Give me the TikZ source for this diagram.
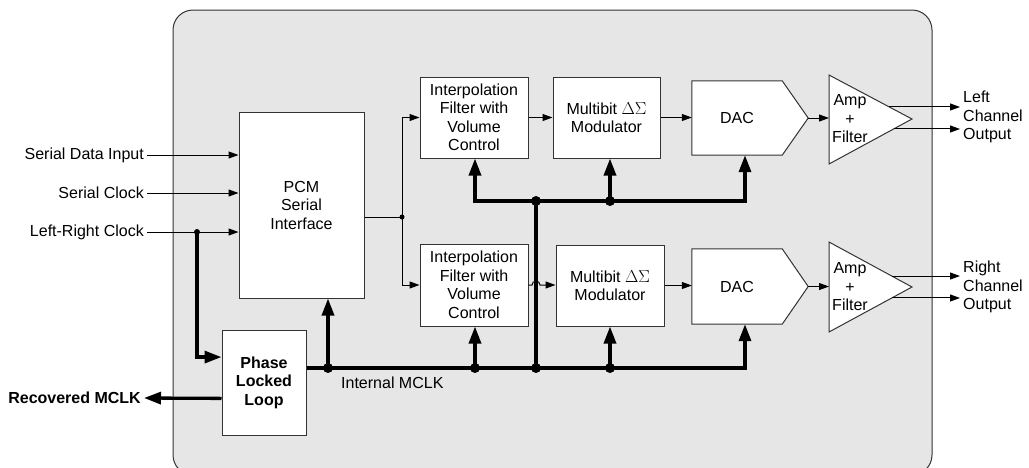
\documentclass[tikz,border=0pt]{standalone}
\usepackage{fontspec}
\setmainfont{Liberation Sans}
\usetikzlibrary{arrows.meta, calc}
\definecolor{Panel}{HTML}{E6E6E6}
\definecolor{Edge}{HTML}{333333}

\tikzset{
  box/.style={draw=Edge, fill=white, line width=1pt, inner sep=0pt, align=center},
  lbl/.style={inner sep=3pt},
  sig/.style={-{Triangle[length=10pt, width=7pt]}, line width=1pt},
  bus/.style={line width=3.3pt},
  busarrow/.style={-{Triangle[length=17pt, width=12pt]}, line width=3.3pt},
  dot/.style={circle, fill, inner sep=0pt, minimum size=6pt},
  bigdot/.style={circle, fill, inner sep=0pt, minimum size=10pt}
}

\begin{document}
\begin{tikzpicture}[x=1pt, y=-1pt, font=\fontsize{16}{18.5}\selectfont]
  \useasboundingbox (0,0) rectangle (1029,467);
  % chip outline
  \draw[draw=Edge, fill=Panel, line width=1pt, rounded corners=20pt] (173,10) rectangle (932,475);

  % blocks
  \node[box, minimum width=125, minimum height=186] (pcm) at (301.5,205) {PCM\\Serial\\Interface};
  \node[box, minimum width=84, minimum height=105, font=\fontsize{16}{18.5}\selectfont\bfseries] (pll) at (264,382.5) {Phase\\Locked\\Loop};
  \node[box, minimum width=108, minimum height=81] (intT) at (474,117.5) {Interpolation\\Filter with\\Volume\\Control};
  \node[box, minimum width=107, minimum height=81] (modT) at (606.5,117.5) {Multibit $\Delta\Sigma$\\Modulator};
  \node[box, minimum width=108, minimum height=82] (intB) at (474,285) {Interpolation\\Filter with\\Volume\\Control};
  \node[box, minimum width=108, minimum height=81] (modB) at (610,285.5) {Multibit $\Delta\Sigma$\\Modulator};

  % DACs
  \foreach \ch/\y/\h in {T/118/74, B/286.5/75} {
    \node[inner sep=0pt, minimum width=90, minimum height=\h] (dac\ch) at (737,\y) {};
    \coordinate (dac\ch tip) at ($(dac\ch.east)+(26,0)$);
    \draw[box] (dac\ch.north west) -- (dac\ch.north east) -- (dac\ch tip)
      -- (dac\ch.south east) -- (dac\ch.south west) -- cycle;
    \node at (dac\ch) {DAC};
  }

  % amplifiers
  \coordinate (ampTa) at (829,75);  \coordinate (ampTtip) at (912,119); \coordinate (ampTb) at (829,164);
  \coordinate (ampBa) at (829,242); \coordinate (ampBtip) at (912,287); \coordinate (ampBb) at (829,332);
  \foreach \ch in {T,B} {
    \draw[box] (amp\ch a) -- (amp\ch tip) -- (amp\ch b) -- cycle;
  }
  \node[align=center, inner sep=0pt] (ampT) at (850,119) {Amp\\+\\Filter};
  \node[align=center, inner sep=0pt] (ampB) at (850,287) {Amp\\+\\Filter};

  % inputs
  \foreach \name/\txt/\y in {sdi/Serial Data Input/155, sck/Serial Clock/193, lrc/Left-Right Clock/232} {
    \node[lbl, anchor=east] (\name) at (147,\y) {\txt};
    \draw[sig] (\name.east) -- (\name.east -| pcm.west);
  }
  \node[dot] (lrcdot) at (197,232) {};
  \draw[busarrow] (lrcdot.center) |- ($(pll.north west)!0.26!(pll.south west)$);
  \node[lbl, anchor=east, font=\fontsize{16}{18.5}\selectfont\bfseries] (rec) at (144,398) {Recovered MCLK};
  \draw[busarrow] ($(pll.north west)!0.65!(pll.south west)$) -- (rec.east);

  % serial data split
  \node[dot, minimum size=5pt] (split) at (402,217) {};
  \draw[line width=1pt] (pcm.east |- split) -- (split.center);
  \draw[sig] (split.center) |- (intT.west);
  \draw[sig] (split.center) |- (intB.west);

  % internal MCLK bus
  \coordinate (busR) at (745,368);
  \node[bigdot] (d1) at (328,368) {};
  \node[bigdot] (d2) at (475,368) {};
  \node[bigdot] (d3) at (536,368) {};
  \node[bigdot] (d4) at (610,368) {};
  \draw[busarrow] (pll.east |- busR) -- (busR) -- (busR |- dacB.south);
  \draw[busarrow] (d1.center) -- (d1 |- pcm.south);
  \draw[busarrow] (d2.center) -- (d2 |- intB.south);
  \draw[busarrow] (d4.center) -- (d4 |- modB.south);
  \node[lbl, anchor=west] (mclk) at (338,383) {Internal MCLK};

  \coordinate (tbusL) at (475,201);
  \coordinate (tbusR) at (745,201);
  \node[bigdot] (d5) at (536,201) {};
  \node[bigdot] (d6) at (610,201) {};
  \draw[bus, {Triangle[length=17pt, width=12pt]}-{Triangle[length=17pt, width=12pt]}]
    (tbusL |- intT.south) -- (tbusL) -- (tbusR) -- (tbusR |- dacT.south);
  \draw[busarrow] (d6.center) -- (d6 |- modT.south);
  \draw[bus] (d5.center) -- (d3.center);

  % signal chain
  \draw[sig] (intT) -- (modT);
  \draw[sig] (intB.east) -- ($(d3 |- intB.east)+(-4,0)$) arc[start angle=180, end angle=360, radius=4]
    -- (modB.west |- intB.east);
  \draw[sig] (modT.east) -- (modT.east -| dacT.west);
  \draw[sig] (modB.east) -- (modB.east -| dacB.west);
  \draw[sig] (dacTtip) -- (dacTtip -| ampTa);
  \draw[sig] (dacBtip) -- (dacBtip -| ampBa);

  % outputs
  \node[lbl, anchor=west, align=left] (outL) at (960,117) {Left\\Channel\\Output};
  \node[lbl, anchor=west, align=left] (outR) at (960,287) {Right\\Channel\\Output};
  \coordinate (oT1) at ($(ampTa)!0.727!(ampTtip)$);
  \coordinate (oT2) at ($(ampTtip)!0.222!(ampTb)$);
  \coordinate (oB1) at ($(ampBa)!0.756!(ampBtip)$);
  \coordinate (oB2) at ($(ampBtip)!0.244!(ampBb)$);
  \draw[sig] (oT1) -- (oT1 -| outL.west);
  \draw[sig] (oT2) -- (oT2 -| outL.west);
  \draw[sig] (oB1) -- (oB1 -| outR.west);
  \draw[sig] (oB2) -- (oB2 -| outR.west);
\end{tikzpicture}
\end{document}
